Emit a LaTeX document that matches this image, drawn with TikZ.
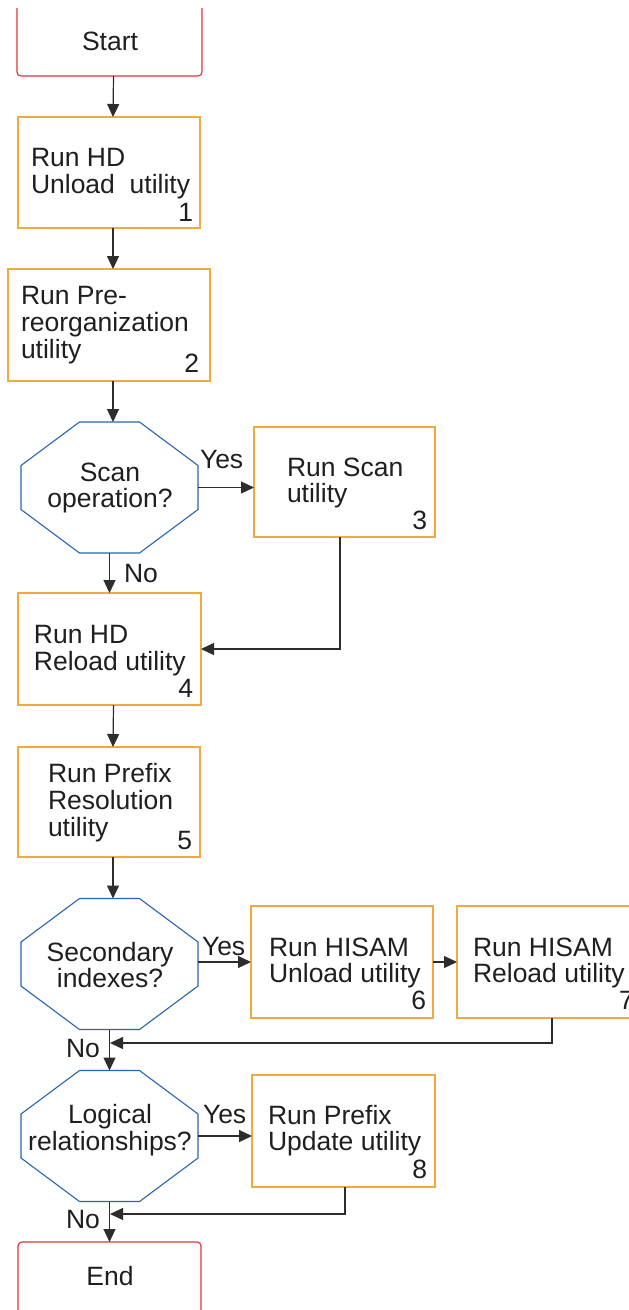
\documentclass[tikz,border=0pt]{standalone}
\usepackage{fontspec}
\setmainfont{Liberation Sans}
\usetikzlibrary{arrows.meta,calc}
\definecolor{boxc}{RGB}{242,170,62}
\definecolor{termc}{RGB}{228,52,62}
\definecolor{octc}{RGB}{40,100,180}
\definecolor{linec}{RGB}{45,45,45}
\newcommand{\octagon}[1]{\draw[octline] ([xshift=-30pt]#1.north) -- ([xshift=30pt]#1.north) -- ([yshift=22pt]#1.east) -- ([yshift=-22pt]#1.east) -- ([xshift=30pt]#1.south) -- ([xshift=-30pt]#1.south) -- ([yshift=-22pt]#1.west) -- ([yshift=22pt]#1.west) -- cycle;}
\begin{document}
\begin{tikzpicture}[x=1pt,y=-1pt,
  pbox/.style={draw=boxc, line width=1.2pt, outer sep=0pt, inner sep=0pt},
  hold/.style={draw=none, outer sep=0pt, inner sep=0pt, minimum width=177pt, minimum height=131pt},
  octline/.style={draw=octc, line width=1.1pt},
  termline/.style={draw=termc, line width=1.2pt, rounded corners=4pt},
  txt/.style={inner sep=0pt, outer sep=0pt, font=\fontsize{26.5}{27}\selectfont, text=black!88},
  arr/.style={draw=linec, line width=1.2pt, -{Triangle[length=13pt,width=12pt]}},
  ln/.style={draw=linec, line width=1.2pt}]
\useasboundingbox (0,0) rectangle (629,1310);
\clip (0,0) rectangle (629,1310);
\fill[white] (0,0) rectangle (629,1310);

% terminals
\node[draw=none, outer sep=0pt, inner sep=0pt, minimum width=185pt, minimum height=68pt] (start) at (109.5,42) {};
\draw[termline] (17,8) -- (17,76) -- (202,76) -- (202,8);
\node[txt, anchor=base] (tstart) at (110,50) {Start};

\node[draw=none, outer sep=0pt, inner sep=0pt, minimum width=183pt, minimum height=68pt] (end) at (109.5,1276) {};
\draw[termline] (18,1320) -- (18,1242) -- (201,1242) -- (201,1320);
\node[txt, anchor=base] (tend) at (110,1285) {End};

% process boxes
\node[pbox, minimum width=182pt, minimum height=111pt] (b1) at (109,172.5) {};
\node[pbox, minimum width=202pt, minimum height=112pt] (b2) at (109,325) {};
\node[pbox, minimum width=181pt, minimum height=110pt] (b3) at (344.5,482) {};
\node[pbox, minimum width=183pt, minimum height=112pt] (b4) at (109.5,649) {};
\node[pbox, minimum width=182pt, minimum height=110pt] (b5) at (109,802) {};
\node[pbox, minimum width=182pt, minimum height=112pt] (b6) at (342,962) {};
\node[pbox, minimum width=182pt, minimum height=112pt] (b7) at (548,962) {};
\node[pbox, minimum width=183pt, minimum height=112pt] (b8) at (343.5,1131) {};

% decisions
\node[hold] (d1) at (109.5,487.5) {};
\node[hold] (d2) at (109.5,964) {};
\node[hold] (d3) at (109.5,1136) {};
\octagon{d1}
\octagon{d2}
\octagon{d3}

% box texts
\node[txt, anchor=base west] (t1a) at (31,166) {Run HD};
\node[txt, anchor=base west] (t1b) at (31,193) {Unload\ \ utility};
\node[txt, anchor=base east] (n1) at (193,221) {1};

\node[txt, anchor=base west] (t2a) at (21,304) {Run Pre-};
\node[txt, anchor=base west] (t2b) at (21,331) {reorganization};
\node[txt, anchor=base west] (t2c) at (21,358) {utility};
\node[txt, anchor=base east] (n2) at (199,372) {2};

\node[txt, anchor=base west] (t3a) at (287,476) {Run Scan};
\node[txt, anchor=base west] (t3b) at (287,502) {utility};
\node[txt, anchor=base east] (n3) at (427,529) {3};

\node[txt, anchor=base west] (t4a) at (34,643) {Run HD};
\node[txt, anchor=base west] (t4b) at (34,670) {Reload utility};
\node[txt, anchor=base east] (n4) at (193,697) {4};

\node[txt, anchor=base west] (t5a) at (48,782) {Run Prefix};
\node[txt, anchor=base west] (t5b) at (48,809) {Resolution};
\node[txt, anchor=base west] (t5c) at (48,836) {utility};
\node[txt, anchor=base east] (n5) at (192,849) {5};

\node[txt, anchor=base west] (t6a) at (269,956) {Run HISAM};
\node[txt, anchor=base west] (t6b) at (269,982) {Unload utility};
\node[txt, anchor=base east] (n6) at (426,1009) {6};

\node[txt, anchor=base west] (t7a) at (473,956) {Run HISAM};
\node[txt, anchor=base west] (t7b) at (473,982) {Reload utility};
\node[txt, anchor=base west] (n7) at (619,1009) {7};

\node[txt, anchor=base west] (t8a) at (268,1124) {Run Prefix};
\node[txt, anchor=base west] (t8b) at (268,1150) {Update utility};
\node[txt, anchor=base east] (n8) at (427,1178) {8};

% decision texts
\node[txt, anchor=base] (td1a) at (110,481) {Scan};
\node[txt, anchor=base] (td1b) at (110,507) {operation?};
\node[txt, anchor=base] (td2a) at (110,961) {Secondary};
\node[txt, anchor=base] (td2b) at (110,987) {indexes?};
\node[txt, anchor=base] (td3a) at (110,1123) {Logical};
\node[txt, anchor=base] (td3b) at (110,1150) {relationships?};

% labels
\node[txt, anchor=base west] (y1) at (200,468) {Yes};
\node[txt, anchor=base west] (no1) at (124,582) {No};
\node[txt, anchor=base west] (y2) at (202,955) {Yes};
\node[txt, anchor=base west] (no2) at (66,1057) {No};
\node[txt, anchor=base west] (y3) at (203,1123) {Yes};
\node[txt, anchor=base west] (no3) at (66,1228) {No};

% merge points
\coordinate (m1) at (110,1043);
\coordinate (m2) at (110,1214);

% connectors
\draw[arr] ([xshift=4pt]start.south) -- ([xshift=4pt]b1.north);
\draw[arr] ([xshift=4pt]b1.south) -- ([xshift=4pt]b2.north);
\draw[arr] ([xshift=4pt]b2.south) -- ([xshift=3.5pt]d1.north);
\draw[arr] (d1.east) -- (b3.west |- d1.east);
\draw[arr] (d1.south) -- (b4.north -| d1.south);
\draw[arr] ([xshift=-4.5pt]b3.south) |- (b4.east);
\draw[arr] ([xshift=4pt]b4.south) -- ([xshift=4pt]b5.north);
\draw[arr] ([xshift=4pt]b5.south) -- ([xshift=3.5pt]d2.north);
\draw[arr] ([yshift=2pt]d2.east) -- (b6.west |- b6.west);
\draw[arr] (b6.east) -- (b7.west);
\draw[arr] ([xshift=4pt]b7.south) |- (m1);
\draw[ln] (d2.south) -- ([yshift=-14pt]m1 -| d2.south);
\draw[arr] ([yshift=-14pt]m1 -| d2.south) -- (d3.north);
\draw[arr] (d3.east) -- (b8.west |- d3.east);
\draw[arr] ([xshift=1.5pt]b8.south) |- (m2);
\draw[arr] (d3.south) -- (end.north -| d3.south);
\end{tikzpicture}
\end{document}
